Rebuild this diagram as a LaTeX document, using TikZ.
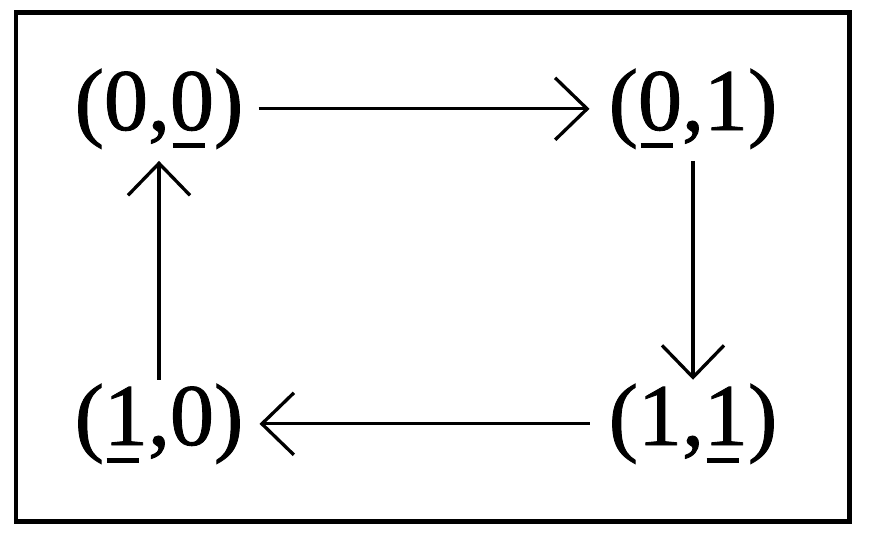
\documentclass[tikz,border=0pt]{standalone}
\usepackage{fontspec}
\setmainfont{Liberation Serif}
\newfontfamily\lblfont{Liberation Serif}[RawFeature={embolden=1}]
\usetikzlibrary{arrows.meta}
\newcommand\uldigit[1]{\makebox[0pt][l]{\hspace{0.03em}\smash{\rule[-0.2em]{0.37em}{0.05em}}}#1}
\begin{document}
\begin{tikzpicture}[x=1pt,y=-1pt,
  lbl/.style={inner sep=0pt, anchor=base, font=\lblfont\fontsize{88}{100}\selectfont},
  conn/.style={line width=3.3pt, -{Straight Barb[length=32pt,width=62pt,line width=3.3pt]}}]
\useasboundingbox (0,0) rectangle (874,536);
\draw[line width=4.5pt] (16,12.5) rectangle (849.7,521.7);
\node[lbl] (n00) at (159,130) {(0,\uldigit{0})};
\node[lbl] (n01) at (693,130) {(\uldigit{0},1)};
\node[lbl] (n10) at (159,445) {(\uldigit{1},0)};
\node[lbl] (n11) at (693,445) {(1,\uldigit{1})};
\draw[conn, shorten <=15pt, shorten >=19pt] (n00.east) -- (n01.west);
\draw[conn, shorten <=12pt, shorten >=4pt] (n01.south) -- (n11.north);
\draw[conn, shorten <=19pt, shorten >=16pt] (n11.west) -- (n10.east);
\draw[conn, shorten <=4pt, shorten >=12pt] (n10.north) -- (n00.south);
\end{tikzpicture}
\end{document}
